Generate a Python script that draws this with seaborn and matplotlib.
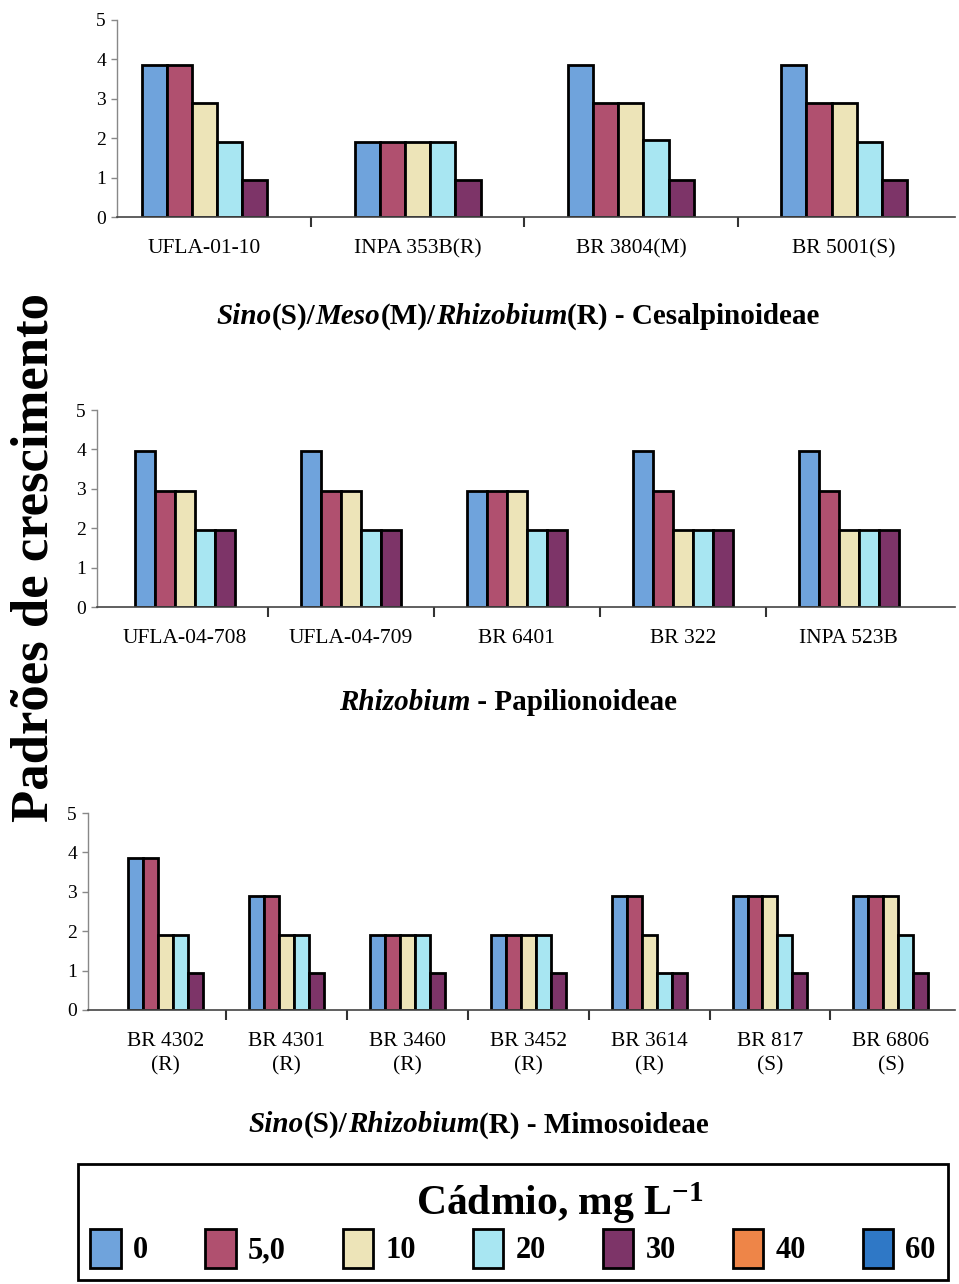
import matplotlib
matplotlib.use("Agg")
import matplotlib.pyplot as plt
from matplotlib.patches import Patch
import seaborn as sns
import pandas as pd

# ---------------- data ----------------
cd_levels = ['0', '5,0', '10', '20', '30', '40', '60']
cd_colors = ['#6fa3dc', '#b0506f', '#ede4b8', '#a8e6f2', '#7d3468', '#ee8548', '#2f78c6']
panel_levels = ['0', '5,0', '10', '20', '30']

strains_ces = ['UFLA-01-10', 'INPA 353B(R)', 'BR 3804(M)', 'BR 5001(S)']
ces_0 = [3.85, 1.9, 3.85, 3.85]
ces_5 = [3.85, 1.9, 2.9, 2.9]
ces_10 = [2.9, 1.9, 2.9, 2.9]
ces_20 = [1.9, 1.9, 1.95, 1.9]
ces_30 = [0.95, 0.95, 0.95, 0.95]

strains_pap = ['UFLA-04-708', 'UFLA-04-709', 'BR 6401', 'BR 322', 'INPA 523B']
pap_0 = [3.95, 3.95, 2.95, 3.95, 3.95]
pap_5 = [2.95, 2.95, 2.95, 2.95, 2.95]
pap_10 = [2.95, 2.95, 2.95, 1.95, 1.95]
pap_20 = [1.95, 1.95, 1.95, 1.95, 1.95]
pap_30 = [1.95, 1.95, 1.95, 1.95, 1.95]

strains_mim = ['BR 4302\n(R)', 'BR 4301\n(R)', 'BR 3460\n(R)', 'BR 3452\n(R)',
               'BR 3614\n(R)', 'BR 817\n(S)', 'BR 6806\n(S)']
mim_0 = [3.85, 2.9, 1.9, 1.9, 2.9, 2.9, 2.9]
mim_5 = [3.85, 2.9, 1.9, 1.9, 2.9, 2.9, 2.9]
mim_10 = [1.9, 1.9, 1.9, 1.9, 1.9, 2.9, 2.9]
mim_20 = [1.9, 1.9, 1.9, 1.9, 0.95, 1.9, 1.9]
mim_30 = [0.95, 0.95, 0.95, 0.95, 0.95, 0.95, 0.95]

y_ticks = [0, 1, 2, 3, 4, 5]
legend_title = r'Cádmio, mg L$^{\mathbf{-1}}$'

# ---------------- style ----------------
sns.set_theme(style='white')
plt.rcParams['font.family'] = ['Liberation Serif', 'DejaVu Serif']
plt.rcParams['text.color'] = 'black'
plt.rcParams['axes.labelcolor'] = 'black'
plt.rcParams['xtick.color'] = 'black'
plt.rcParams['ytick.color'] = 'black'
plt.rcParams['mathtext.fontset'] = 'custom'
plt.rcParams['mathtext.rm'] = 'Liberation Serif:bold'
plt.rcParams['mathtext.bf'] = 'Liberation Serif:bold'
plt.rcParams['mathtext.it'] = 'Liberation Serif:bold:italic'

W, H = 959, 1284
fig = plt.figure(figsize=(W / 100, H / 100), dpi=100)
fig.patch.set_facecolor('white')


def rect(x0, x1, y_top, y_bot):
    return [x0 / W, 1 - y_bot / H, (x1 - x0) / W, (y_bot - y_top) / H]


def make_df(strains, series):
    rows = []
    for lvl, vals in zip(panel_levels, series):
        for s, v in zip(strains, vals):
            rows.append({'strain': s, 'cd': lvl, 'value': v})
    return pd.DataFrame(rows)


def panel(r, strains, series, xlim, width):
    ax = fig.add_axes(r)
    df = make_df(strains, series)
    sns.barplot(data=df, x='strain', y='value', hue='cd', order=strains,
                hue_order=panel_levels, palette=cd_colors[:5], width=width,
                saturation=1, edgecolor='black', linewidth=2, legend=False, ax=ax)
    ax.set_xlim(*xlim)
    ax.set_ylim(0, 5)
    ax.set_yticks(y_ticks)
    ax.set_yticklabels([str(t) for t in y_ticks], fontsize=14)
    ax.set_xlabel('')
    ax.set_ylabel('')
    ax.set_facecolor('none')
    for s in ['top', 'right']:
        ax.spines[s].set_visible(False)
    ax.spines['left'].set_color('#888888')
    ax.spines['left'].set_linewidth(1)
    ax.spines['bottom'].set_color('#444444')
    ax.spines['bottom'].set_linewidth(1.2)
    ax.tick_params(axis='y', length=4, width=1, color='#888888', left=True, pad=4,
                   labelcolor='black')
    ax.tick_params(axis='x', which='major', length=0, pad=16, labelsize=15.5,
                   labelcolor='black')
    ax.set_xticks([i + 0.5 for i in range(len(strains) - 1)], minor=True)
    ax.tick_params(axis='x', which='minor', length=7, width=1.5, color='#333333',
                   bottom=True, direction='out')
    return ax


ax1 = panel(rect(117, 955, 20, 217), strains_ces,
            [ces_0, ces_5, ces_10, ces_20, ces_30], (-0.41, 3.52), 0.59)
ax2 = panel(rect(97, 955, 410, 607), strains_pap,
            [pap_0, pap_5, pap_10, pap_20, pap_30], (-0.53, 4.64), 0.60)
ax3 = panel(rect(88, 955, 813, 1010), strains_mim,
            [mim_0, mim_5, mim_10, mim_20, mim_30], (-0.64, 6.53), 0.62)
for lab in ax3.get_xticklabels():
    lab.set_linespacing(1.35)

# ---------------- rich section titles ----------------
renderer = fig.canvas.get_renderer()


def rich_text(pieces, xc, yc, size):
    texts = []
    for s, italic in pieces:
        t = fig.text(0, 1 - yc / H, s, fontsize=size, fontweight='bold',
                     fontstyle='italic' if italic else 'normal', va='center', ha='left',
                     color='black')
        texts.append(t)
    widths = [t.get_window_extent(renderer).width for t in texts]
    x = xc - sum(widths) / 2
    for t, w in zip(texts, widths):
        t.set_x(x / W)
        x += w


rich_text([('Sino', True), ('(S)/', False), ('Meso', True), ('(M)/', False),
           ('Rhizobium', True), ('(R) - Cesalpinoideae', False)], 518, 316, 21)
rich_text([('Rhizobium', True), (' - Papilionoideae', False)], 508, 703, 21)
rich_text([('Sino', True), ('(S)/', False), ('Rhizobium', True),
           ('(R) - Mimosoideae', False)], 479, 1125, 21)

# ---------------- y label ----------------
fig.text(35 / W, 1 - 558 / H, 'Padrões de crescimento', rotation=90,
         fontsize=38, fontweight='bold', ha='center', va='center', color='black')

# ---------------- legend ----------------
handles = [Patch(facecolor=c, edgecolor='black', linewidth=2, label=l)
           for c, l in zip(cd_colors, cd_levels)]
leg = fig.legend(handles=handles, ncol=7, loc='lower left',
                 bbox_to_anchor=(78 / W, 4 / H, 870 / W, 117 / H), mode='expand',
                 title=legend_title,
                 title_fontproperties={'weight': 'bold', 'size': 30},
                 prop={'weight': 'bold', 'size': 22}, frameon=True, fancybox=False,
                 framealpha=1, edgecolor='black', handlelength=1.0, handleheight=1.6,
                 handletextpad=0.4, borderaxespad=0, borderpad=0.4,
                 labelspacing=0.2, labelcolor='black')
leg.get_frame().set_linewidth(2)
leg.get_title().set_alpha(0)
fig.text(560 / W, 1 - 1203 / H, legend_title, fontsize=30, fontweight='bold',
         ha='center', va='center', zorder=20, color='black')

fig.savefig('out.png', dpi=100)
